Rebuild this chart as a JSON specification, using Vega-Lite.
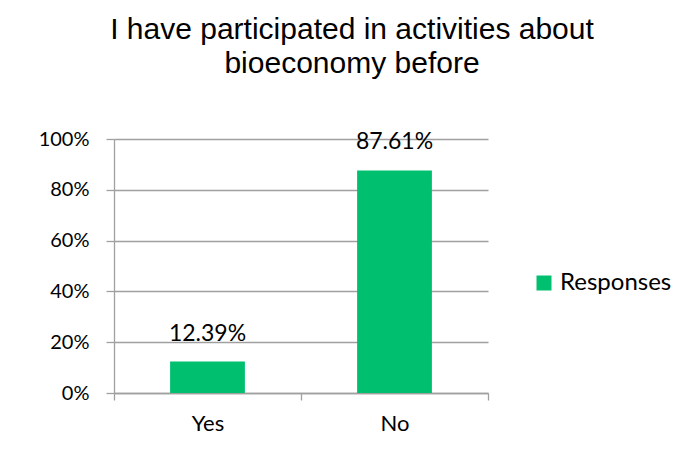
{
  "$schema": "https://vega.github.io/schema/vega-lite/v6.json",
  "width": 374,
  "height": 254,
  "autosize": {"type": "none"},
  "padding": {"left": 114, "top": 139, "right": 207, "bottom": 64},
  "background": "white",
  "title": {
    "text": ["I have participated in activities about", "bioeconomy before"],
    "font": "Liberation Sans Narrow, Liberation Sans, Arial",
    "fontSize": 30,
    "fontWeight": "normal",
    "color": "#000000",
    "anchor": "middle",
    "frame": "group",
    "dx": 51,
    "offset": 50,
    "lineHeight": 34
  },
  "data": {
    "values": [
      {"answer": "Yes", "share": 0.1239, "series": "Responses"},
      {"answer": "No", "share": 0.8761, "series": "Responses"}
    ]
  },
  "encoding": {
    "x": {
      "field": "answer",
      "type": "nominal",
      "sort": ["Yes", "No"],
      "title": null,
      "scale": {"paddingInner": 0, "paddingOuter": 0},
      "axis": {
        "labelAngle": 0,
        "labelFont": "Lato",
        "labelFontSize": 22,
        "labelColor": "#000000",
        "labelPadding": 13,
        "domainColor": "#a0a0a0",
        "tickColor": "#a0a0a0",
        "tickSize": 7,
        "tickBand": "extent",
        "grid": false
      }
    },
    "y": {
      "field": "share",
      "type": "quantitative",
      "title": null,
      "scale": {"domain": [0, 1], "nice": false},
      "axis": {
        "values": [0, 0.2, 0.4, 0.6, 0.8, 1],
        "format": ".0%",
        "labelFont": "Lato",
        "labelFontSize": 20,
        "labelColor": "#000000",
        "labelPadding": 17,
        "domainColor": "#a0a0a0",
        "tickColor": "#a0a0a0",
        "tickSize": 8,
        "gridColor": "#a0a0a0",
        "gridWidth": 1.3
      }
    }
  },
  "layer": [
    {
      "mark": {"type": "bar", "color": "#00C070", "width": {"band": 0.4}},
      "encoding": {
        "color": {
          "field": "series",
          "type": "nominal",
          "scale": {"range": ["#00C070"]},
          "legend": {
            "title": null,
            "orient": "none",
            "legendX": 418,
            "legendY": 132,
            "symbolType": "square",
            "symbolSize": 225,
            "symbolStrokeWidth": 0,
            "labelFont": "Lato",
            "labelFontSize": 24,
            "labelColor": "#000000",
            "labelOffset": 4
          }
        }
      }
    },
    {
      "mark": {
        "type": "text",
        "font": "Lato",
        "fontSize": 23,
        "color": "#000000",
        "baseline": "alphabetic",
        "dy": -21
      },
      "encoding": {
        "text": {"field": "share", "type": "quantitative", "format": ".2%"}
      }
    }
  ],
  "config": {
    "view": {"stroke": null},
    "axis": {"domainWidth": 1.3, "tickWidth": 1.3}
  }
}
